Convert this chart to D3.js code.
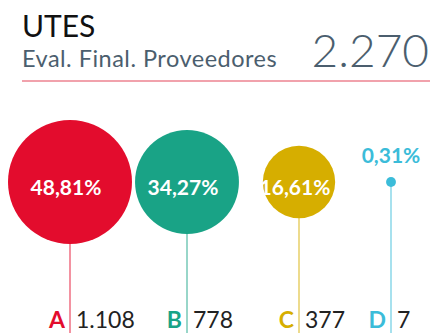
<!DOCTYPE html>
<html>
<head>
<meta charset="utf-8">
<script src="https://cdn.jsdelivr.net/npm/d3@7"></script>
<style>
  html, body { margin: 0; padding: 0; background: #fff; }
  svg { display: block; font-family: Lato, "Open Sans", sans-serif; }
</style>
</head>
<body>
<svg id="chart" width="435" height="333"></svg>
<script>
// Supplier final evaluation: share and count per grade
const title = "UTES";
const subtitle = "Eval. Final. Proveedores";
const total = 2270;
const categories = ["A", "B", "C", "D"];
const counts = [1108, 778, 377, 7];
const shares = [48.81, 34.27, 16.61, 0.31];
const colors = ["#e30c2d", "#19a386", "#d6ae00", "#3bbcd9"];

const W = 435, H = 333;
const svg = d3.select("#chart");

const fmtPct = v => d3.format(".2f")(v).replace(".", ",") + "%";
const fmtInt = d3.formatLocale({ decimal: ",", thousands: ".", grouping: [3], currency: ["", ""] }).format(",d");

// Header
svg.append("text")
  .attr("x", 22).attr("y", 37)
  .attr("font-size", 30).attr("fill", "#111")
  .text(title);
svg.append("text")
  .attr("x", 22).attr("y", 66.5)
  .attr("font-size", 23.5).attr("letter-spacing", 0.5).attr("fill", "#4b5e6e")
  .text(subtitle);
svg.append("text")
  .attr("x", 429).attr("y", 66.5)
  .attr("text-anchor", "end")
  .attr("font-size", 46).attr("font-weight", 300).attr("fill", "#4b5e6e")
  .text(fmtInt(total));
svg.append("line")
  .attr("x1", 22).attr("x2", 430)
  .attr("y1", 81).attr("y2", 81)
  .attr("stroke", "#ec8390").attr("stroke-width", 1.5);

// Scales
const x = d3.scaleOrdinal().domain(categories).range([70, 187, 299, 391]);
const r = d3.scaleSqrt().domain([0, d3.max(shares)]).range([0, 62]);
const cy = 182;
const color = d3.scaleOrdinal().domain(categories).range(colors);

const rows = categories.map((c, i) => ({ cat: c, count: counts[i], share: shares[i] }));

const g = svg.append("g");

// Stems
g.selectAll("line.stem").data(rows).join("line")
  .attr("class", "stem")
  .attr("x1", d => x(d.cat)).attr("x2", d => x(d.cat))
  .attr("y1", cy).attr("y2", H)
  .attr("stroke", d => color(d.cat))
  .attr("stroke-opacity", 0.6)
  .attr("stroke-width", 1.5);

// Bubbles
g.selectAll("circle").data(rows).join("circle")
  .attr("cx", d => x(d.cat)).attr("cy", cy)
  .attr("r", d => r(d.share))
  .attr("fill", d => color(d.cat));

// Share labels: inside when the bubble is large, above otherwise
g.selectAll("text.share").data(rows).join("text")
  .attr("class", "share")
  .attr("x", d => x(d.cat) + (r(d.share) > 20 ? -4 : 0))
  .attr("y", d => r(d.share) > 20 ? cy + 13 : cy - 19)
  .attr("text-anchor", "middle")
  .attr("font-size", 21).attr("font-weight", 700)
  .attr("fill", d => r(d.share) > 20 ? "#fff" : color(d.cat))
  .text(d => fmtPct(d.share));

// Category letters and counts along the bottom
g.selectAll("text.cat").data(rows).join("text")
  .attr("class", "cat")
  .attr("x", d => x(d.cat) - 5).attr("y", 328)
  .attr("text-anchor", "end")
  .attr("font-size", 23).attr("font-weight", 700)
  .attr("fill", d => color(d.cat))
  .text(d => d.cat);
g.selectAll("text.count").data(rows).join("text")
  .attr("class", "count")
  .attr("x", d => x(d.cat) + 6).attr("y", 328)
  .attr("font-size", 23).attr("fill", "#222")
  .text(d => fmtInt(d.count));
</script>
</body>
</html>
